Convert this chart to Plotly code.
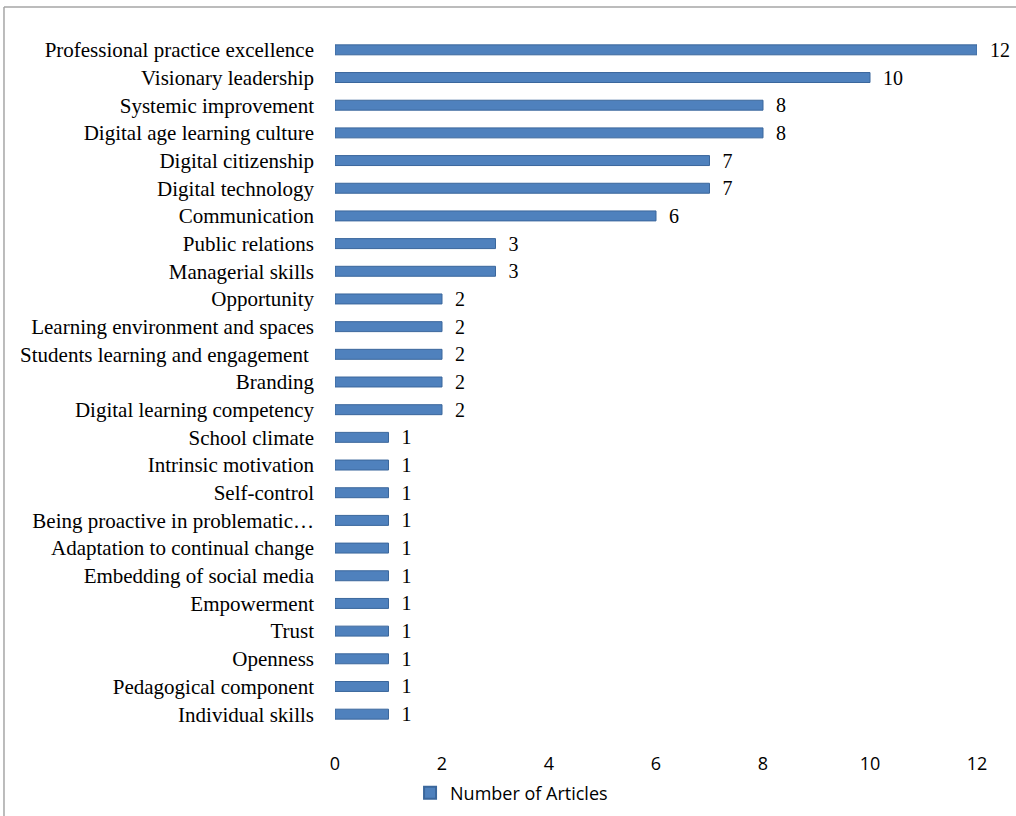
import plotly.graph_objects as go

categories = [
    "Professional practice excellence",
    "Visionary leadership",
    "Systemic improvement",
    "Digital age learning culture",
    "Digital citizenship",
    "Digital technology",
    "Communication",
    "Public relations",
    "Managerial skills",
    "Opportunity",
    "Learning environment and spaces",
    "Students learning and engagement ",
    "Branding",
    "Digital learning competency",
    "School climate",
    "Intrinsic motivation",
    "Self-control",
    "Being proactive in problematic…",
    "Adaptation to continual change",
    "Embedding of social media",
    "Empowerment",
    "Trust",
    "Openness",
    "Pedagogical component",
    "Individual skills",
]
values = [12, 10, 8, 8, 7, 7, 6, 3, 3, 2, 2, 2, 2, 2, 1, 1, 1, 1, 1, 1, 1, 1, 1, 1, 1]
series_name = "Number of Articles"
x_ticks = [0, 2, 4, 6, 8, 10, 12]

fig = go.Figure()
fig.add_trace(go.Bar(
    y=categories,
    x=values,
    orientation="h",
    name=series_name,
    marker=dict(color="#4F81BD", line=dict(color="#3B679C", width=1)),
    text=values,
    texttemplate="  %{x}",
    textposition="outside",
    constraintext="none",
    textfont=dict(family="Liberation Serif", size=20, color="black"),
    cliponaxis=False,
    showlegend=True,
))

fig.update_layout(
    width=1016,
    height=816,
    margin=dict(l=335, r=39, t=36, b=88, autoexpand=False),
    paper_bgcolor="white",
    plot_bgcolor="white",
    bargap=0.64,
    xaxis=dict(
        range=[0, 12.0],
        tickvals=x_ticks,
        showgrid=False,
        zeroline=False,
        showline=False,
        automargin=False,
        tickfont=dict(family="Open Sans", size=18, color="black"),
        ticklabelstandoff=23,
    ),
    yaxis=dict(
        categoryorder="array",
        categoryarray=categories[::-1],
        range=[-0.5, 24.5],
        showgrid=False,
        zeroline=False,
        showline=False,
        automargin=False,
        tickfont=dict(family="Liberation Serif", size=21, color="black"),
        ticklabelstandoff=20,
    ),
    legend=dict(
        orientation="h",
        x=0.275,
        xanchor="center",
        y=-0.094,
        yanchor="middle",
        font=dict(family="Open Sans", size=18, color="black"),
        itemsizing="constant",
    ),
    shapes=[
        dict(type="line", xref="paper", yref="paper", x0=-0.5156, x1=1.1, y0=1.0419, y1=1.0419,
             line=dict(color="#A6A6A6", width=1.5)),
        dict(type="line", xref="paper", yref="paper", x0=-0.5156, x1=-0.5156, y0=1.0419, y1=-0.2,
             line=dict(color="#A6A6A6", width=1.5)),
    ],
)

fig.write_html("out.html", config={"displayModeBar": False},
               post_script="document.body.style.margin='0';")
